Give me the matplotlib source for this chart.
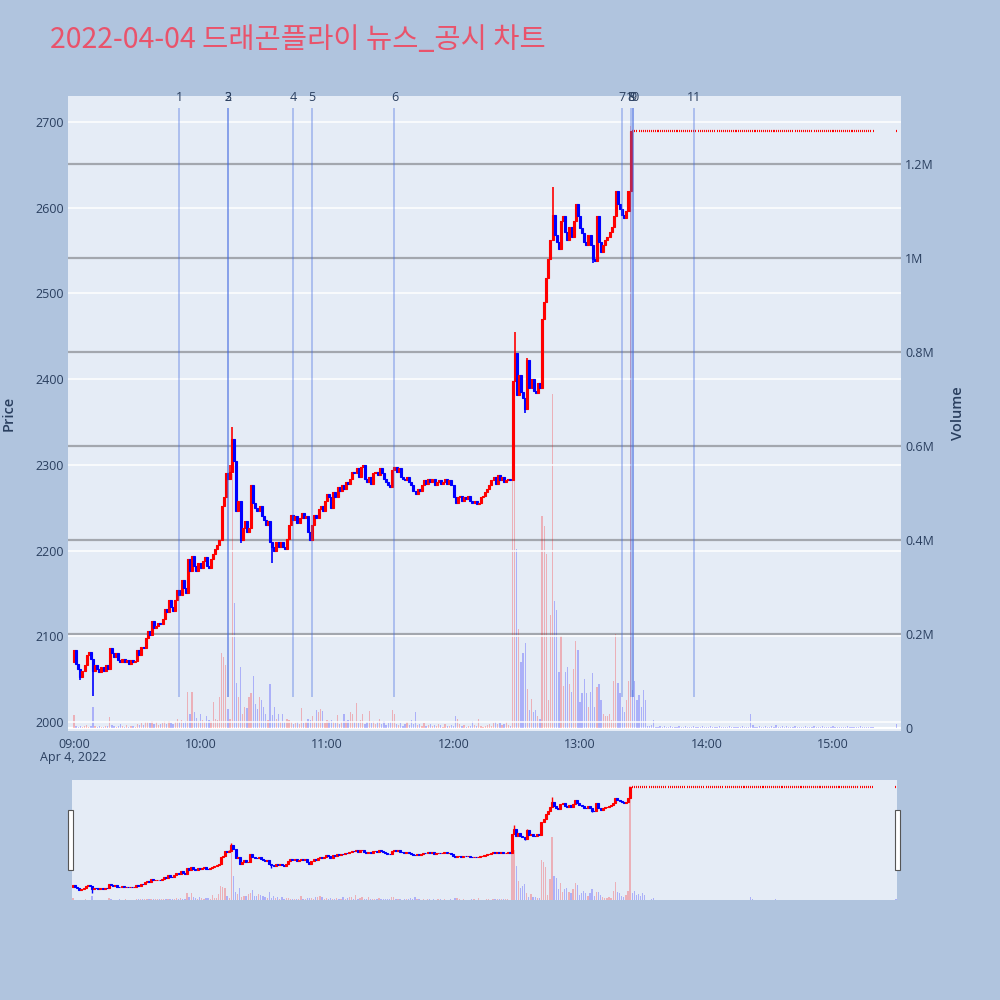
import pandas as pd
import matplotlib
matplotlib.use("Agg")
import matplotlib.pyplot as plt
import matplotlib.dates as mdates
from matplotlib.patches import Rectangle
from matplotlib.transforms import blended_transform_factory

TITLE = "2022-04-04 드래곤플라이 뉴스_공시 차트"
DAY = "2022-04-04"

# minute closes from 09:00 to 13:24
close_am = [
    2084, 2068, 2062, 2052, 2060, 2066, 2078, 2082, 2074, 2060,
    2066, 2062, 2058, 2064, 2060, 2066, 2062, 2086, 2080, 2076,
    2080, 2072, 2070, 2074, 2070, 2072, 2068, 2072, 2070, 2071,
    2084, 2078, 2088, 2086, 2098, 2106, 2102, 2118, 2110, 2112,
    2116, 2114, 2120, 2132, 2128, 2142, 2134, 2130, 2142, 2154,
    2148, 2166, 2156, 2150, 2190, 2176, 2194, 2182, 2176, 2186,
    2180, 2188, 2192, 2182, 2180, 2190, 2196, 2202, 2206, 2212,
    2252, 2262, 2290, 2284, 2292, 2330, 2305, 2246, 2258, 2212,
    2226, 2234, 2222, 2226, 2276, 2256, 2250, 2246, 2252, 2240,
    2236, 2230, 2234, 2210, 2204, 2200, 2210, 2204, 2210, 2204,
    2202, 2214, 2230, 2242, 2236, 2240, 2232, 2238, 2244, 2238,
    2240, 2222, 2212, 2230, 2242, 2238, 2248, 2252, 2246, 2258,
    2266, 2262, 2250, 2268, 2262, 2274, 2270, 2276, 2272, 2280,
    2278, 2284, 2292, 2290, 2296, 2286, 2298, 2300, 2284, 2280,
    2286, 2278, 2290, 2292, 2288, 2296, 2290, 2284, 2280, 2276,
    2274, 2294, 2298, 2292, 2296, 2286, 2284, 2282, 2286, 2280,
    2276, 2270, 2266, 2272, 2270, 2276, 2282, 2278, 2284, 2280,
    2284, 2276, 2280, 2282, 2278, 2280, 2284, 2278, 2282, 2276,
    2262, 2256, 2262, 2264, 2258, 2262, 2260, 2264, 2258, 2256,
    2258, 2254, 2256, 2262, 2264, 2268, 2272, 2276, 2282, 2286,
    2278, 2288, 2282, 2286, 2280, 2282, 2284, 2282, 2398, 2430,
    2382, 2405, 2385, 2378, 2365, 2422, 2390, 2400, 2386, 2384,
    2396, 2390, 2470, 2490, 2518, 2540, 2562, 2592, 2568, 2560,
    2552, 2584, 2590, 2572, 2562, 2578, 2566, 2585, 2604, 2590,
    2576, 2570, 2560, 2556, 2568, 2556, 2540, 2538, 2590, 2560,
    2548, 2556, 2562, 2566, 2572, 2578, 2590, 2620, 2604, 2598,
    2592, 2588, 2596, 2620, 2690,
]
first_open = 2070

# volume per minute, thousand shares
vol_am = [
    28, 4, 3, 5, 3, 4, 6, 3, 4, 45,
    5, 3, 4, 3, 2, 4, 5, 23, 6, 4,
    3, 5, 8, 4, 3, 6, 3, 4, 5, 3,
    8, 6, 10, 7, 13, 12, 10, 14, 9, 12,
    7, 8, 10, 15, 9, 14, 10, 8, 12, 20,
    12, 18, 10, 14, 77, 30, 77, 35, 22, 15,
    30, 18, 13, 25, 17, 15, 55, 20, 17, 65,
    160, 150, 134, 40, 20, 540, 265, 95, 65, 130,
    30, 45, 42, 65, 75, 110, 50, 40, 65, 60,
    45, 30, 17, 94, 28, 45, 20, 30, 12, 30,
    13, 20, 17, 13, 8, 10, 12, 9, 42, 11,
    13, 20, 17, 25, 12, 38, 35, 40, 36, 10,
    17, 15, 17, 12, 10, 28, 9, 12, 30, 15,
    17, 35, 30, 12, 54, 10, 17, 30, 8, 12,
    36, 10, 15, 8, 12, 20, 9, 14, 7, 10,
    12, 38, 30, 8, 6, 10, 5, 8, 12, 6,
    17, 9, 35, 6, 8, 5, 10, 4, 6, 8,
    5, 7, 4, 9, 6, 3, 8, 5, 4, 6,
    5, 26, 20, 8, 4, 6, 3, 5, 4, 15,
    6, 4, 20, 5, 3, 4, 6, 8, 5, 10,
    12, 8, 10, 6, 9, 12, 7, 5, 580, 560,
    380, 210, 140, 160, 180, 83, 38, 62, 34, 38,
    25, 20, 450, 430, 370, 60, 240, 710, 270, 250,
    120, 195, 90, 120, 130, 94, 77, 125, 185, 165,
    56, 75, 105, 75, 45, 77, 118, 45, 87, 94,
    60, 30, 25, 25, 30, 18, 100, 200, 95, 75,
    45, 35, 60, 100, 1280,
]

# wicks that stick out past the bodies (minute index -> price)
wick_high = {74: 2300, 75: 2344, 209: 2455, 215: 2425, 227: 2624}
wick_low = {3: 2049, 9: 2030, 79: 2209, 94: 2185, 214: 2360, 246: 2535}

# after 13:24 the price stayed at 2690 until 15:19, then the 15:30 close
limit_price = 2690
late_vol = [
    80, 100, 60, 70, 45, 80, 60, 5, 4, 6, 17, 3, 2, 4, 3, 5, 2, 3, 4, 2,
    3, 2, 5, 3, 2, 4, 3, 2, 3, 4,
    2, 3, 2, 5, 3, 2, 3, 4, 2, 3,
    2, 4, 3, 2, 3, 2, 4, 3, 2, 3,
    2, 3, 4, 2, 3, 2, 29, 6, 3, 2,
    4, 3, 2, 5, 3, 2, 4, 3, 6, 3,
    2, 4, 3, 5, 2, 3, 2, 4, 3, 2,
    3, 2, 4, 3, 2, 3, 5, 2, 3, 2,
    4, 3, 2, 3, 2, 4, 3, 2, 3, 2,
    3, 2, 4, 2, 3, 2, 3, 2, 4, 3,
    2, 3, 2, 3, 2,
]
close_auction_vol = 8

news_times = ["09:50", "10:13", "10:13", "10:44", "10:53", "11:32",
              "13:20", "13:24", "13:25", "13:25", "13:54"]
news_labels = ["1", "2", "3", "4", "5", "6", "7", "8", "9", "10", "11"]

BG = "#B0C4DE"
PLOT_BG = "#E5ECF6"
TXT = "#2a3f5f"
UP = "#FF0000"
DOWN = "#0000FF"

plt.rcParams["font.family"] = ["Open Sans", "Noto Sans CJK KR", "DejaVu Sans"]


def build_frame():
    t_am = pd.date_range(f"{DAY} 09:00", periods=len(close_am), freq="min")
    am = pd.DataFrame({"time": t_am, "close": close_am, "volume": vol_am})
    am["open"] = [first_open] + close_am[:-1]
    am["high"] = am[["open", "close"]].max(axis=1)
    am["low"] = am[["open", "close"]].min(axis=1)
    for i, v in wick_high.items():
        am.loc[i, "high"] = v
    for i, v in wick_low.items():
        am.loc[i, "low"] = v

    t_pm = list(pd.date_range(t_am[-1] + pd.Timedelta(minutes=1), periods=len(late_vol), freq="min"))
    t_pm.append(pd.Timestamp(f"{DAY} 15:30"))
    pm = pd.DataFrame({"time": t_pm, "volume": late_vol + [close_auction_vol]})
    for c in ["open", "high", "low", "close"]:
        pm[c] = limit_price
    df = pd.concat([am, pm], ignore_index=True)
    df["x"] = mdates.date2num(df["time"])
    df["up"] = df["close"] > df["open"]
    return df


def draw_candles(ax, axv, df, body_w, wick_lw, vol_w):
    minute = 1 / 1440
    flat = (df["close"] - df["open"]).abs() < 0.5
    moving = df[~flat]
    colors = [UP if u else DOWN for u in moving["up"]]
    ax.vlines(moving["x"], moving["low"], moving["high"], colors=colors, lw=wick_lw, zorder=3)
    bottoms = moving[["open", "close"]].min(axis=1)
    heights = (moving["close"] - moving["open"]).abs()
    ax.bar(moving["x"], heights, bottom=bottoms, width=body_w * minute,
           color=colors, edgecolor=colors, linewidth=0.8, zorder=4)
    # flat candles read as a dotted line
    still = df[flat]
    ax.hlines(still["close"], still["x"] - 0.25 * minute, still["x"] + 0.25 * minute,
              colors=UP, lw=1.6, zorder=4)
    vcol = [UP if u else DOWN for u in df["up"]]
    axv.bar(df["x"], df["volume"] * 1000, width=vol_w * minute, color=vcol,
            alpha=0.25, linewidth=0, zorder=2)


def style_pair(ax, axv):
    ax.set_zorder(3)
    axv.set_zorder(2)
    ax.patch.set_visible(False)
    axv.patch.set_visible(True)
    axv.patch.set_facecolor(PLOT_BG)
    for a in (ax, axv):
        for s in a.spines.values():
            s.set_visible(False)


df = build_frame()

fig = plt.figure(figsize=(10, 10), dpi=100, facecolor=BG)

# main chart
ax = fig.add_axes([0.068, 0.269, 0.833, 0.635])
axv = ax.twinx()
style_pair(ax, axv)
draw_candles(ax, axv, df, body_w=0.95, wick_lw=1.2, vol_w=0.6)

x0 = mdates.date2num(pd.Timestamp(f"{DAY} 08:57:09"))
x1 = mdates.date2num(pd.Timestamp(f"{DAY} 15:32:15"))
ax.set_xlim(x0, x1)
ax.set_ylim(1989.5, 2730.3)
axv.set_ylim(-6400, 1344700)

ax.set_yticks(range(2000, 2701, 100))
ax.grid(axis="y", color="white", lw=1.1, zorder=0)
ax.set_axisbelow(True)
vt = [0, 200000, 400000, 600000, 800000, 1000000, 1200000]
axv.set_yticks(vt)
axv.set_yticklabels(["0", "0.2M", "0.4M", "0.6M", "0.8M", "1M", "1.2M"])
for v in vt[1:]:
    axv.axhline(v, color="#a3a7ae", lw=1.6, zorder=1)
axv.axhline(0, color="white", lw=1.6, zorder=1)

ax.xaxis.set_major_locator(mdates.HourLocator(byhour=range(9, 16)))
ax.xaxis.set_major_formatter(mdates.DateFormatter("%H:%M"))
ax.tick_params(axis="x", length=0, pad=5, labelsize=9, labelcolor=TXT)
ax.tick_params(axis="y", length=0, pad=3, labelsize=9, labelcolor=TXT)
axv.tick_params(axis="y", length=0, pad=3, labelsize=9, labelcolor=TXT)
ax.set_ylabel("Price", fontsize=10.5, color=TXT, labelpad=14, fontweight="semibold")
axv.set_ylabel("Volume", fontsize=10.5, color=TXT, labelpad=12, fontweight="semibold")
fig.text(0.073, 1 - 0.757, "Apr 4, 2022", ha="center", va="center", fontsize=9, color=TXT)

# news / disclosure markers
tr = blended_transform_factory(ax.transData, ax.transAxes)
for t, lab in zip(news_times, news_labels):
    xn = mdates.date2num(pd.Timestamp(f"{DAY} {t}"))
    ax.vlines(xn, 2029, 2716, color="royalblue", alpha=0.35, lw=1.4, zorder=5)
    ax.text(xn, 0.9975, lab, transform=tr, ha="center", va="center",
            fontsize=9, color=TXT, clip_on=False, zorder=6)

fig.text(0.05, 1 - 0.040, TITLE, ha="left", va="center", fontsize=20.5,
         color="#E9536B", family=["Noto Sans CJK KR", "DejaVu Sans"])

# range slider
sl = fig.add_axes([0.072, 0.100, 0.825, 0.120])
slv = sl.twinx()
style_pair(sl, slv)
draw_candles(sl, slv, df, body_w=0.95, wick_lw=1.0, vol_w=0.6)
s0 = mdates.date2num(pd.Timestamp(f"{DAY} 08:59:30"))
s1 = mdates.date2num(pd.Timestamp(f"{DAY} 15:30:30"))
sl.set_xlim(s0, s1)
sl.set_ylim(1989.5, 2730.3)
slv.set_ylim(0, 1344700)
for a in (sl, slv):
    a.set_xticks([])
    a.set_yticks([])

for xl in (0.068, 0.895):
    fig.add_artist(Rectangle((xl, 1 - 0.870), 0.005, 0.060, transform=fig.transFigure,
                             facecolor="white", edgecolor="#555555", lw=0.8, zorder=10))

fig.savefig("out.png", dpi=100, facecolor=BG)
